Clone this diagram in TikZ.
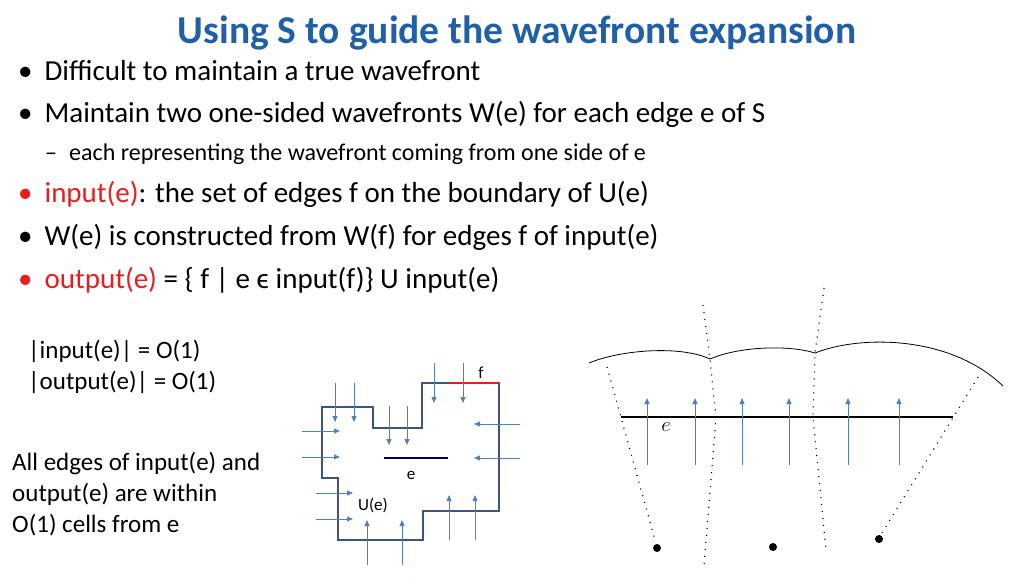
\documentclass[tikz,border=0pt]{standalone}
\usepackage{fontspec}
\setmainfont{Carlito}
\usetikzlibrary{arrows.meta}
\definecolor{titleblue}{RGB}{31,96,166}
\definecolor{ared}{RGB}{230,30,30}
\definecolor{abl}{RGB}{80,128,185}
\definecolor{poly}{RGB}{60,85,120}
\begin{document}
\begin{tikzpicture}[x=1pt,y=-1pt,
  txt/.style={anchor=west,inner sep=0pt,font=\fontsize{29}{32}\selectfont},
  small/.style={anchor=west,inner sep=0pt,font=\fontsize{24}{27}\selectfont},
  mid/.style={anchor=west,inner sep=0pt,font=\fontsize{25}{31}\selectfont,align=left},
  bl/.style={abl,line width=0.8pt,-{Triangle[length=6pt,width=5pt]}},
  dots/.style={line width=1.2pt,dash pattern=on 1pt off 6pt},
  dotb/.style={fill=black,circle,inner sep=0pt,minimum size=8pt}]
\useasboundingbox (0,0) rectangle (1024,576);
\node (title) at (517,33) {\fontsize{39.5}{42}\selectfont\bfseries\color{titleblue}Using S to guide the wavefront expansion};
\node[txt] (b1) at (18,71) {•\hspace{12pt}Difficult to maintain a true wavefront};
\node[txt] (b2) at (18,114) {•\hspace{12pt}Maintain two one-sided wavefronts W(e) for each edge e of S};
\node[small] (b3) at (45,154) {–\hspace{12pt}each representing the wavefront coming from one side of e};
\node[txt] (b4) at (18,194) {{\color{ared}•\hspace{12pt}input(e)}: the set of edges f on the boundary of U(e)};
\node[txt] (b5) at (18,237) {•\hspace{12pt}W(e) is constructed from W(f) for edges f of input(e)};
\node[txt] (b6) at (18,280) {{\color{ared}•\hspace{12pt}output(e)} = \{ f | e ϵ input(f)\} U input(e)};
\node[mid] (n1) at (28,367) {|input(e)| = O(1)\\|output(e)| = O(1)};
\node[mid] (n2) at (12,494) {All edges of input(e) and\\output(e) are within\\O(1) cells from e};
% left polygon
\draw[poly,line width=1.6pt] (322,407) -- (373,407) -- (373,428) -- (422,428) -- (422,383) -- (499,383) -- (499,511) -- (423,511) -- (423,540) -- (338,540) -- (338,478) -- (322,478) -- cycle;
\draw[ared,line width=2.5pt] (449,383) -- (499,383);
\draw[black!70!blue,line width=2.5pt] (384,458) -- (448,458);
\node (le) at (411,475) {\fontsize{17}{19}\selectfont e};
\node (lf) at (481,373) {\fontsize{17}{19}\selectfont f};
\node (lu) at (373,505) {\fontsize{17}{19}\selectfont U(e)};
\foreach \x in {335,354}{\draw[bl] (\x,383) -- (\x,422);}
\foreach \x in {389,407}{\draw[bl] (\x,406) -- (\x,445);}
\foreach \x in {434,463}{\draw[bl] (\x,363) -- (\x,403);}
\foreach \y in {424,458}{\draw[bl] (520,\y) -- (474,\y);}
\foreach \y in {431,457}{\draw[bl] (302,\y) -- (340,\y);}
\foreach \y in {493,519}{\draw[bl] (316,\y) -- (353,\y);}
\foreach \x in {367,402}{\draw[bl] (\x,565) -- (\x,520);}
\foreach \x in {449,475}{\draw[bl] (\x,540) -- (\x,495);}
% right diagram
\draw[line width=0.8pt] (589,363) .. controls (620,350) and (680,345) .. (710,359)
  .. controls (740,346) and (790,345) .. (815,353)
  .. controls (860,335) and (950,335) .. (1003,386);
\draw[dots] (607,367) -- (655,540);
\draw[dots] (703,305) -- (710,359) -- (716,418) -- (704,565);
\draw[dots] (824,288) -- (815,353) -- (813,417) -- (826,550);
\draw[dots] (978,377) -- (882,533);
\draw[line width=2.5pt] (621,417) -- (953,417);
\node (re) at (666,427) {\fontsize{22}{24}\selectfont $e$};
\foreach \x in {647,695,742,789,848,899}{\draw[bl] (\x,465) -- (\x,398);}
\node[dotb] (d1) at (657,548) {};
\node[dotb] (d2) at (773,547) {};
\node[dotb] (d3) at (879,539) {};
\end{tikzpicture}
\end{document}
